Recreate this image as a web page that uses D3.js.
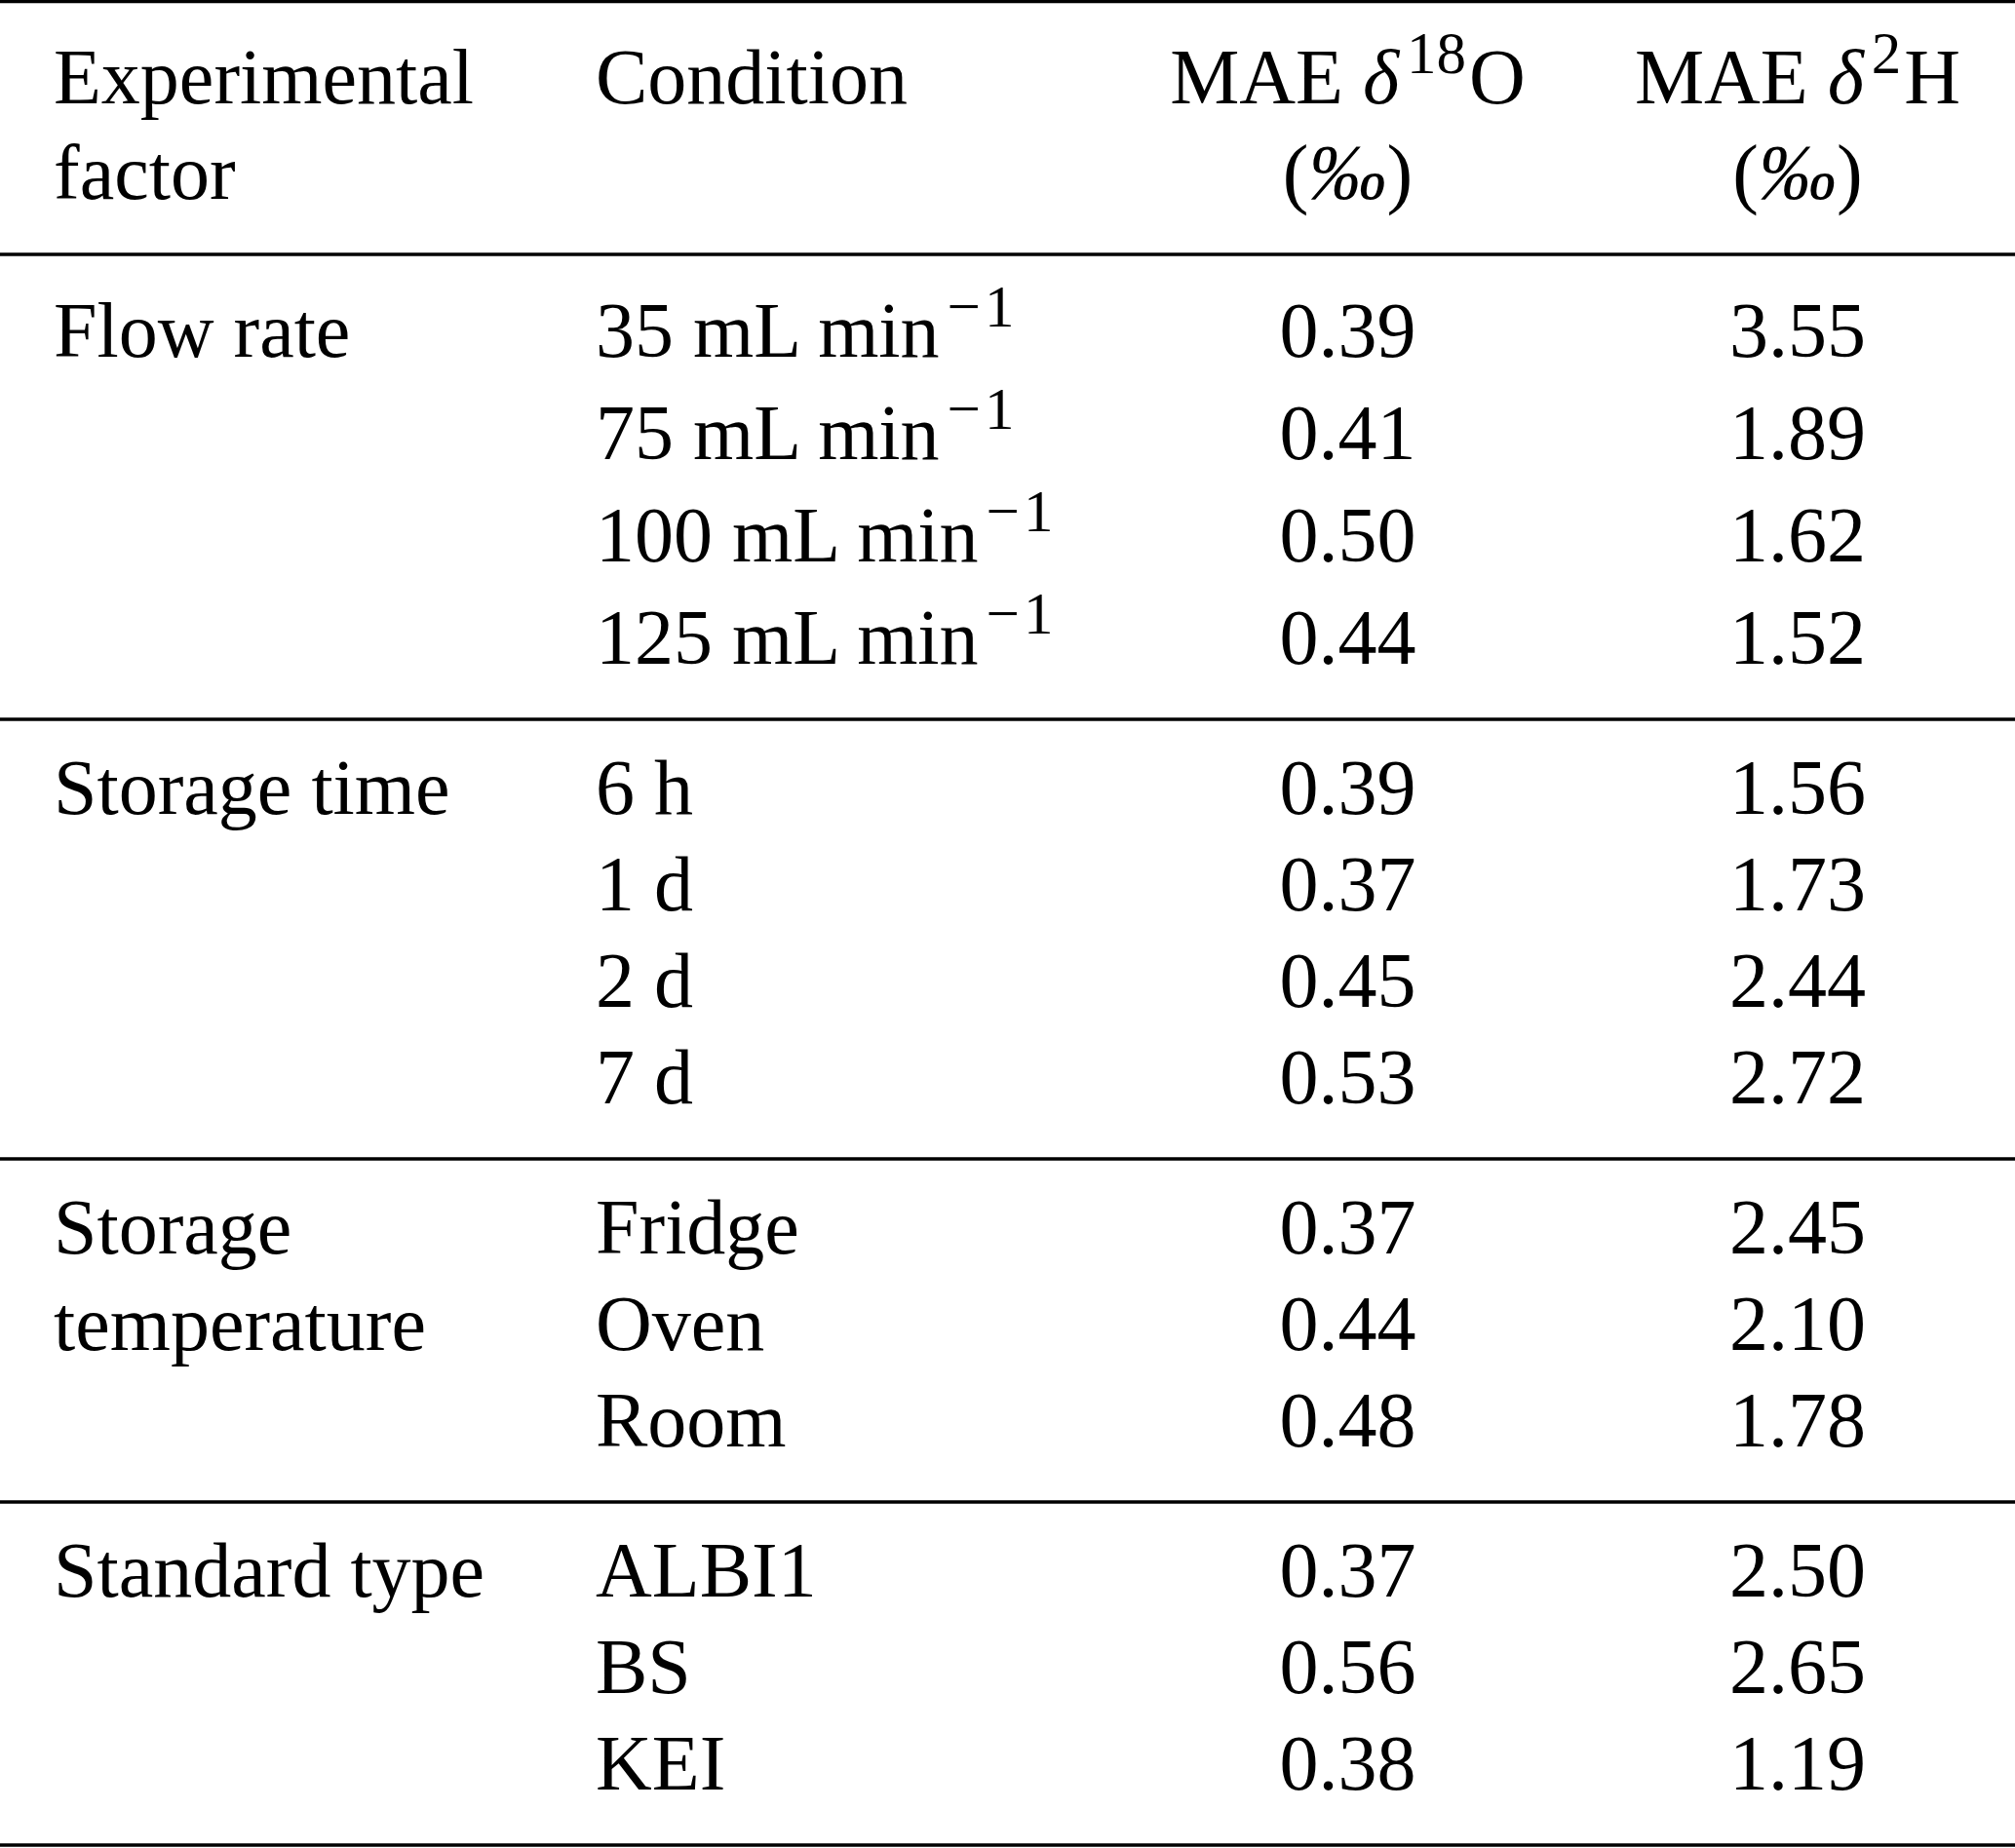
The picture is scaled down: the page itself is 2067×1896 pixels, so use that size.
<!DOCTYPE html>
<html>
<head>
<meta charset="utf-8">
<script src="https://cdn.jsdelivr.net/npm/d3@7"></script>
<style>
html, body { margin: 0; padding: 0; background: #fff; }
svg { display: block; }
text { font-family: "Liberation Serif", "Times New Roman", serif; fill: #000; white-space: pre; }
</style>
</head>
<body>
<div id="table"></div>
<script>
// table content
var headers = [["Experimental", "factor"], ["Condition"], ["MAE δ^{18}O", "(‰)"], ["MAE δ^{2}H", "(‰)"]];
var factors = [["Flow rate"], ["Storage time"], ["Storage", "temperature"], ["Standard type"]];
var groupSizes = [4, 4, 3, 3];
var conditions = ["35 mL min^{−1}", "75 mL min^{−1}", "100 mL min^{−1}", "125 mL min^{−1}",
                  "6 h", "1 d", "2 d", "7 d",
                  "Fridge", "Oven", "Room",
                  "ALBI1", "BS", "KEI"];
var mae18O = [0.39, 0.41, 0.50, 0.44, 0.39, 0.37, 0.45, 0.53, 0.37, 0.44, 0.48, 0.37, 0.56, 0.38];
var mae2H = [3.55, 1.89, 1.62, 1.52, 1.56, 1.73, 2.44, 2.72, 2.45, 2.10, 1.78, 2.50, 2.65, 1.19];

function main()
{
    var width = 2067, height = 1896;
    var fontSize = 80, supSize = 61, supRaise = 31;
    var lineStep = 98;       // header / factor line spacing
    var ruleWidth = 3.3;
    var fmt = d3.format(".2f");

    var columns = ["factor", "condition", "o18", "h2"];
    var x = d3.scaleOrdinal().domain(columns).range([55, 611, 1382.5, 1844]);
    var anchor = d3.scaleOrdinal().domain(columns).range(["start", "start", "middle", "middle"]);

    var svg = d3.select("#table")
        .append("svg")
        .attr("width", width)
        .attr("height", height);

    // write a string with ^{..} superscripts and italic δ / ‰
    function richText(sel, str) {
        var parts = str.split(/(\^\{[^}]*\}|[δ‰])/).filter(function(s) { return s.length; });
        var shifted = false;
        parts.forEach(function(p) {
            var t = sel.append("tspan");
            if (p.indexOf("^{") === 0) {
                var s = p.slice(2, -1);
                t.text(s)
                    .style("font-size", supSize + "px")
                    .attr("dy", -supRaise)
                    .attr("dx", 8);
                if (s.indexOf("−") >= 0) t.style("letter-spacing", "4px");   // math minus spacing
                shifted = true;
            } else {
                if (shifted) { t.attr("dy", supRaise).attr("dx", 3); shifted = false; }
                if (p === "δ" || p === "‰") t.style("font-style", "italic");
                t.text(p);
            }
        });
    }

    function cell(col, yPos, str) {
        var t = svg.append("text")
            .attr("x", x(col))
            .attr("y", yPos)
            .style("font-size", fontSize + "px")
            .attr("text-anchor", anchor(col));
        richText(t, str);
    }

    // header rows
    var headBase = 106;
    var rules = [1.6, 261];
    headers.forEach(function(lines, c) {
        lines.forEach(function(s, j) { cell(columns[c], headBase + j * lineStep, s); });
    });

    // body groups, row positions through a linear scale per group
    var y0 = rules[1], start = 0;
    groupSizes.forEach(function(n, g) {
        var rows = d3.range(start, start + n);
        var hasSup = rows.some(function(i) { return conditions[i].indexOf("^") >= 0; });
        var first = y0 + (hasSup ? 105 : 97);
        var step = hasSup ? 105 : 99;
        var y = d3.scaleLinear().domain([0, 1]).range([first, first + step]);

        factors[g].forEach(function(s, j) { cell("factor", first + j * 99, s); });
        rows.forEach(function(i, k) {
            cell("condition", y(k), conditions[i]);
            cell("o18", y(k), fmt(mae18O[i]));
            cell("h2", y(k), fmt(mae2H[i]));
        });

        y0 = y(n - 1) + 57;
        rules.push(y0);
        start += n;
    });

    // horizontal rules
    svg.selectAll(".rule")
        .data(rules)
        .enter().append("line")
        .attr("class", "rule")
        .attr("x1", 0)
        .attr("x2", width)
        .attr("y1", function(d) { return d; })
        .attr("y2", function(d) { return d; })
        .attr("stroke", "#000")
        .attr("stroke-width", ruleWidth);
}
main();
</script>
</body>
</html>
